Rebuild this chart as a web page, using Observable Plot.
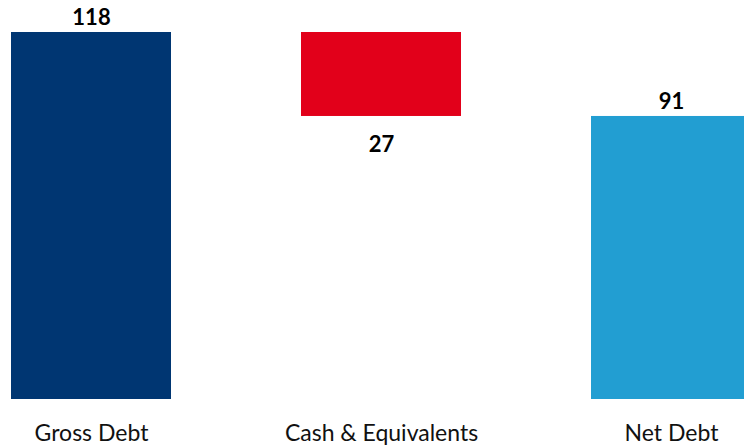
<!DOCTYPE html>
<html>
<head>
<meta charset="utf-8">
<script src="https://cdn.jsdelivr.net/npm/d3@7"></script>
<script src="https://cdn.jsdelivr.net/npm/@observablehq/plot@0.6"></script>
<style>
  html, body { margin: 0; padding: 0; background: #fff; overflow: hidden; }
  #chart { width: 744px; height: 445px; overflow: hidden; }
</style>
</head>
<body>
<div id="chart"></div>
<script>
const categories = ["Gross Debt", "Cash & Equivalents", "Net Debt"];
const barStart = [0, 91, 0];
const barEnd = [118, 118, 91];
const values = [118, 27, 91];
const colors = ["#003672", "#E2001A", "#229ED2"];
const labelBelow = [false, true, false];

const data = categories.map((c, i) => ({
  cat: c, y1: barStart[i], y2: barEnd[i], v: values[i], color: colors[i], below: labelBelow[i]
}));

const font = "Lato, 'Open Sans', sans-serif";

const chart = Plot.plot({
  width: 744,
  height: 445,
  marginTop: 0,
  marginBottom: 46,
  marginLeft: 0,
  marginRight: 0,
  style: { fontFamily: font, background: "#fff", overflow: "hidden" },
  x: { domain: categories, range: [10, 752], paddingInner: 0.45, paddingOuter: 0, label: null },
  y: { domain: [0, 118], range: [399, 32], axis: null },
  color: { type: "identity" },
  marks: [
    Plot.barY(data, { x: "cat", y1: "y1", y2: "y2", fill: "color" }),
    Plot.text(data.filter(d => !d.below), {
      x: "cat", y: "y2", text: d => String(d.v), dy: -15,
      fontSize: 22, fontWeight: "bold", fill: "#000"
    }),
    Plot.text(data.filter(d => d.below), {
      x: "cat", y: "y1", text: d => String(d.v), dy: 28,
      fontSize: 22, fontWeight: "bold", fill: "#000"
    }),
    Plot.axisX({ tickSize: 0, tickPadding: 25, fontSize: 23, fill: "#111", label: null })
  ]
});
document.getElementById("chart").appendChild(chart);
</script>
</body>
</html>
